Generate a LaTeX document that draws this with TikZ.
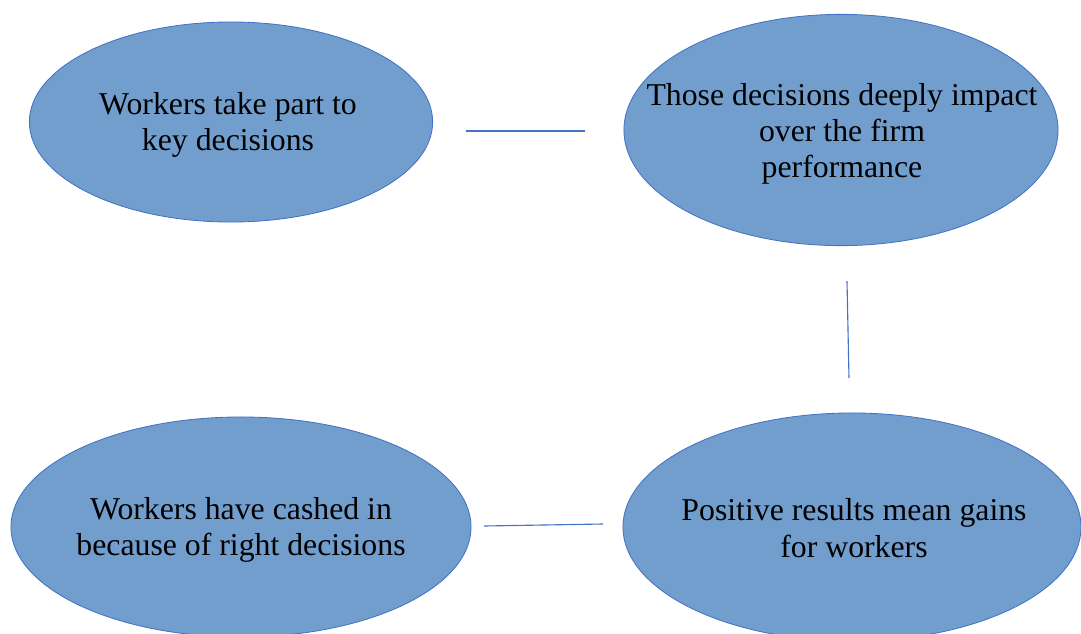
\documentclass[tikz,border=0pt]{standalone}
\usepackage{fontspec}
\setmainfont{Liberation Serif}
\usetikzlibrary{shapes.geometric}

\definecolor{bubblefill}{RGB}{114,158,206}
\definecolor{bubbleline}{RGB}{68,114,196}

\begin{document}
\begin{tikzpicture}[
		x=0.025cm, y=-0.025cm,
		bubble/.style={ellipse, draw=bubbleline, line width=0.6pt, fill=bubblefill, inner sep=0pt},
		caption/.style={font=\fontsize{22.6}{25.8}\selectfont, align=center, text=black},
		link/.style={draw=bubbleline, line width=0.8pt}
		]
		
		\useasboundingbox (0,0) rectangle (1081,633);
		\clip (0,0) rectangle (1081,633);
		
		% --- Ellipses ---
		\node[bubble, minimum width=10.08cm, minimum height=5cm] (take) at (231,122) {};
		\node[bubble, minimum width=10.85cm, minimum height=5.78cm] (impact) at (841,130) {};
		\node[bubble, minimum width=11.45cm, minimum height=5.7cm] (gains) at (852,527) {};
		\node[bubble, minimum width=11.5cm, minimum height=5.5cm] (cashed) at (241,527) {};
		
		% --- Texts ---
		\node[caption] (take_txt) at (228,125) {Workers take part to\\key decisions};
		\node[caption] (impact_txt) at (842,134) {Those decisions deeply impact\\over the firm\\performance};
		\node[caption] (gains_txt) at (854,528) {Positive results mean gains\\for workers};
		\node[caption] (cashed_txt) at (241,530) {Workers have cashed in\\because of right decisions};
		
		% --- Links ---
		\coordinate (take_end) at (466,131);
		\coordinate (impact_start) at (585,131);
		\coordinate (impact_end) at (847,281);
		\coordinate (gains_start) at (849,378);
		\coordinate (gains_end) at (603,524);
		\coordinate (cashed_start) at (484,526);
		
		\draw[link] (take_end) -- (impact_start);
		\draw[link] (impact_end) -- (gains_start);
		\draw[link] (gains_end) -- (cashed_start);
		
	\end{tikzpicture}
\end{document}
